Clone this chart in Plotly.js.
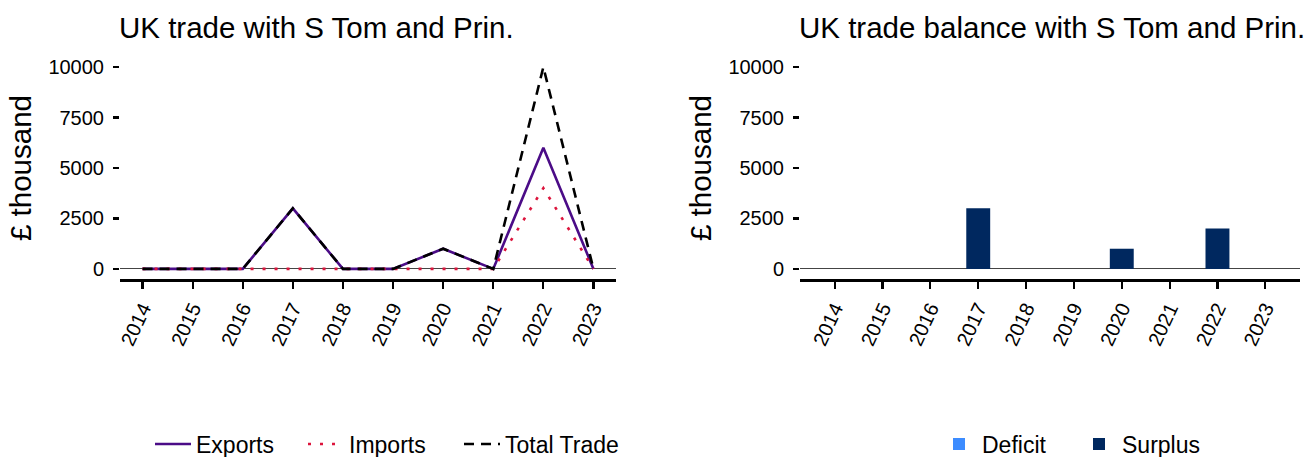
<!DOCTYPE html>
<html>
<head>
<meta charset="utf-8">
<script src="https://cdn.plot.ly/plotly-3.0.1.min.js"></script>
<style>html,body{margin:0;padding:0;background:#fff;}#chart{width:1307px;height:457px;}</style>
</head>
<body>
<div id="chart"></div>
<script>
const years = [2014, 2015, 2016, 2017, 2018, 2019, 2020, 2021, 2022, 2023];
const exportsVals = [0, 0, 0, 3000, 0, 0, 1000, 0, 6000, 0];
const importsVals = [0, 0, 0, 0, 0, 0, 0, 0, 4000, 0];
const totalVals = [0, 0, 0, 3000, 0, 0, 1000, 0, 10000, 0];
const deficitVals = [0, 0, 0, 0, 0, 0, 0, 0, 0, 0];
const surplusVals = [0, 0, 0, 3000, 0, 0, 1000, 0, 2000, 0];
const yTicks = [0, 2500, 5000, 7500, 10000];
const leftTitle = "UK trade with S Tom and Prin.";
const rightTitle = "UK trade balance with S Tom and Prin.";
const yTitle = "£ thousand";

const W = 1307, H = 457;
const FONT = "Liberation Sans, Arial, sans-serif";
const px = v => v / W;
const py = v => 1 - v / H;

const traces = [
  {x: years, y: exportsVals, type: "scatter", mode: "lines", name: "Exports",
   line: {color: "#4B0C87", width: 2.6}, xaxis: "x", yaxis: "y", legend: "legend"},
  {x: years, y: importsVals, type: "scatter", mode: "lines", name: "Imports",
   line: {color: "#DC143C", width: 2.6, dash: "3px,9px"}, xaxis: "x", yaxis: "y", legend: "legend2"},
  {x: years, y: totalVals, type: "scatter", mode: "lines", name: "Total Trade",
   line: {color: "#000000", width: 2.6, dash: "10px,7px"}, xaxis: "x", yaxis: "y", legend: "legend3"},
  {x: years, y: deficitVals, type: "bar", name: "Deficit", width: 0.5,
   marker: {color: "#3C8CFF"}, xaxis: "x2", yaxis: "y2", legend: "legend4"},
  {x: years, y: surplusVals, type: "bar", name: "Surplus", width: 0.5,
   marker: {color: "#00285F"}, xaxis: "x2", yaxis: "y2", legend: "legend5"}
];

const yDomain = [py(279), py(57)];
function xAxis(domain, range, anchor) {
  return {
    domain: domain, range: range, anchor: anchor, automargin: false,
    tickmode: "array", tickvals: years, ticktext: years.map(String),
    tickangle: -65, tickfont: {family: FONT, size: 20, color: "#000"},
    ticks: "outside", ticklen: 7, tickwidth: 2.2, tickcolor: "#000",
    showline: true, linecolor: "#000", linewidth: 3,
    showgrid: false, zeroline: false, fixedrange: true
  };
}
function yAxis(anchor) {
  return {
    domain: yDomain, range: [-500, 10500], anchor: anchor, automargin: false,
    tickmode: "array", tickvals: yTicks, ticktext: yTicks.map(String),
    tickfont: {family: FONT, size: 20, color: "#000"},
    ticks: "outside", ticklen: 6, tickwidth: 2.6, tickcolor: "#000",
    ticklabelstandoff: 5,
    showline: false, showgrid: false,
    zeroline: true, zerolinecolor: "#444", zerolinewidth: 1,
    title: {text: yTitle, font: {family: FONT, size: 29.5, color: "#000"}, standoff: 8},
    fixedrange: true
  };
}
function legendAt(xPix, iw) {
  return {orientation: "h", x: px(xPix), xanchor: "left", y: py(444), yanchor: "middle",
    font: {family: FONT, size: 23, color: "#000"}, itemwidth: iw, bgcolor: "rgba(0,0,0,0)"};
}

const layout = {
  width: W, height: H,
  margin: {l: 0, r: 0, t: 0, b: 0, autoexpand: false},
  paper_bgcolor: "#fff", plot_bgcolor: "#fff",
  font: {family: FONT, color: "#000"},
  barmode: "overlay",
  xaxis: xAxis([px(120), px(616)], [2013.55, 2023.45], "y"),
  yaxis: yAxis("x"),
  xaxis2: xAxis([px(800), px(1300)], [2013.275, 2023.725], "y2"),
  yaxis2: yAxis("x2"),
  legend: legendAt(150, 36),
  legend2: legendAt(303, 36),
  legend3: legendAt(459, 36),
  legend4: legendAt(936, 36),
  legend5: legendAt(1076, 36),
  annotations: [
    {text: leftTitle, xref: "paper", yref: "paper", x: px(117), y: py(27),
     xanchor: "left", yanchor: "middle", showarrow: false,
     font: {family: FONT, size: 29.5, color: "#000"}},
    {text: rightTitle, xref: "paper", yref: "paper", x: px(797), y: py(27),
     xanchor: "left", yanchor: "middle", showarrow: false,
     font: {family: FONT, size: 29.5, color: "#000"}}
  ],
  showlegend: true
};

Plotly.newPlot("chart", traces, layout, {displayModeBar: false, staticPlot: true});
</script>
</body>
</html>
